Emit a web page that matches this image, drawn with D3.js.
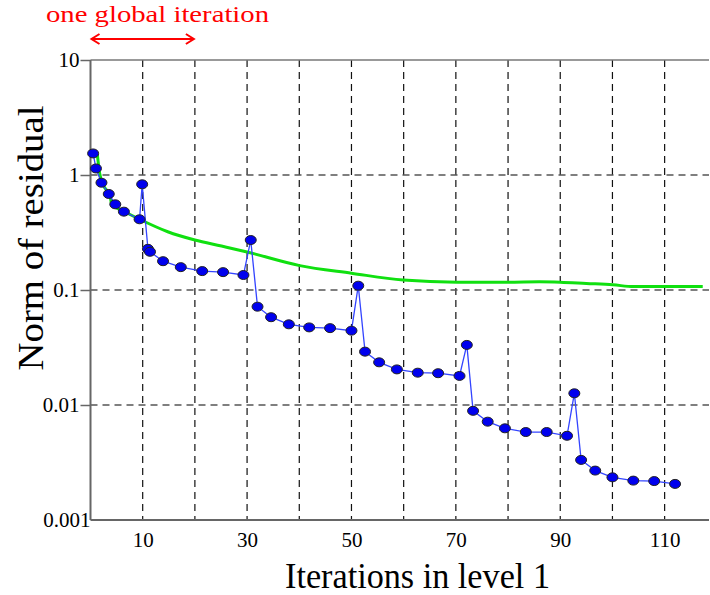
<!DOCTYPE html>
<html>
<head>
<meta charset="utf-8">
<script src="https://cdn.jsdelivr.net/npm/d3@7"></script>
<style>
  html, body { margin: 0; padding: 0; background: #fff; }
  svg { display: block; }
</style>
</head>
<body>
<svg id="chart" width="710" height="595"></svg>
<script>
// Residual norm of the level-1 solver (blue, with markers)
const iterX = [0.5, 1.05, 2.1, 3.5, 4.75, 6.4, 9.4,
  9.9, 11.0, 11.4, 13.9, 17.3, 21.4, 25.4, 29.3,
  30.7, 32.0, 34.6, 38.0, 41.9, 45.9, 50.0,
  51.3, 52.6, 55.3, 58.7, 62.7, 66.6, 70.7,
  72.1, 73.3, 76.1, 79.4, 83.4, 87.4, 91.3,
  92.7, 94.0, 96.7, 100.0, 104.0, 108.0, 112.0];
const residual = [1.54, 1.14, 0.857, 0.684, 0.556, 0.48, 0.412,
  0.83, 0.228, 0.215, 0.178, 0.158, 0.146, 0.143, 0.135,
  0.272, 0.0716, 0.058, 0.0503, 0.0473, 0.0466, 0.0443,
  0.109, 0.0291, 0.0235, 0.0204, 0.0191, 0.0189, 0.0179,
  0.0333, 0.0089, 0.00716, 0.00627, 0.00582, 0.00582, 0.0054,
  0.01264, 0.00333, 0.00269, 0.00235, 0.0022, 0.00218, 0.00206];

// Reference curve (green)
const refX = [1.3, 1.76, 2.6, 3.7, 4.1, 5.9, 9.7, 14.8, 20, 25.1, 30, 40.1, 50,
  59.9, 70.2, 80, 86, 90, 95, 100.1, 104, 109, 117.3];
const refY = [1.52, 1.03, 0.791, 0.67, 0.548, 0.496, 0.406, 0.321, 0.272, 0.241,
  0.214, 0.163, 0.14, 0.122, 0.117, 0.117, 0.118, 0.117, 0.114, 0.111, 0.107, 0.107, 0.107];

const xTicks = [10, 20, 30, 40, 50, 60, 70, 80, 90, 100, 110];
const xLabels = ["10", "30", "50", "70", "90", "110"];
const yTicks = [10, 1, 0.1, 0.01, 0.001];
const yLabels = ["10", "1", "0.1", "0.01", "0.001"];

const xTitle = "Iterations in level 1";
const yTitle = "Norm of residual";
const note = "one global iteration";
const noteSpan = [0, 20];

const SERIF = "'Liberation Serif', 'Times New Roman', serif";

const svg = d3.select("#chart");
const mLeft = 90.5, mRight = 709, mTop = 60, mBottom = 520;

const x = d3.scaleLinear().domain([0, 118.5]).range([mLeft, mRight]);
const y = d3.scaleLog().domain([0.001, 10]).range([mBottom, mTop]);

// vertical dashed grid
svg.append("g").selectAll("line").data(xTicks).join("line")
  .attr("x1", d => x(d)).attr("x2", d => x(d))
  .attr("y1", mTop).attr("y2", mBottom)
  .attr("stroke", "#111").attr("stroke-width", 1.2)
  .attr("stroke-dasharray", "7,5");

// horizontal dashed grid (the top decade is a solid line)
svg.append("g").selectAll("line").data(yTicks.filter(d => d !== 10 && d !== 0.001)).join("line")
  .attr("x1", mLeft).attr("x2", mRight)
  .attr("y1", d => y(d)).attr("y2", d => y(d))
  .attr("stroke", "#555").attr("stroke-width", 1.5)
  .attr("stroke-dasharray", "7,5");
svg.append("line")
  .attr("x1", mLeft).attr("x2", mRight)
  .attr("y1", y(10)).attr("y2", y(10))
  .attr("stroke", "#777").attr("stroke-width", 1.5);

// axes
const yAxis = d3.axisLeft(y).tickValues(yTicks)
  .tickFormat((d, i) => yLabels[i]).tickSize(10).tickPadding(1);
const gy = svg.append("g").attr("transform", `translate(${mLeft},0)`).call(yAxis);
gy.select(".domain").remove();
gy.attr("font-family", null);
gy.selectAll(".tick line").attr("stroke", "#666").attr("stroke-width", 1.5)
  .attr("display", d => d === 0.001 ? "none" : null);
gy.selectAll(".tick text")
  .attr("x", d => d === 0.001 ? 0 : -11)
  .style("font-family", SERIF).style("font-size", "21px").attr("fill", "#000");

const xAxis = d3.axisBottom(x).tickValues(d3.range(10, 111, 20))
  .tickFormat((d, i) => xLabels[i]).tickSize(0).tickPadding(12);
const gx = svg.append("g").attr("transform", `translate(0,${mBottom})`).call(xAxis);
gx.select(".domain").remove();
gx.attr("font-family", null);
gx.selectAll(".tick text")
  .style("font-family", SERIF).style("font-size", "21px").attr("fill", "#000");

svg.append("line").attr("x1", mLeft).attr("x2", mLeft).attr("y1", mTop).attr("y2", mBottom)
  .attr("stroke", "#666").attr("stroke-width", 2);
svg.append("line").attr("x1", mLeft).attr("x2", mRight).attr("y1", mBottom).attr("y2", mBottom)
  .attr("stroke", "#666").attr("stroke-width", 2);

// green reference curve
const refPts = refX.map((v, i) => [v, refY[i]]);
svg.append("path").datum(refPts)
  .attr("fill", "none").attr("stroke", "#10e010").attr("stroke-width", 3)
  .attr("d", d3.line().x(d => x(d[0])).y(d => y(d[1])).curve(d3.curveMonotoneX));

// blue residual history
const resPts = iterX.map((v, i) => [v, residual[i]]);
svg.append("path").datum(resPts)
  .attr("fill", "none").attr("stroke", "#3344ff").attr("stroke-width", 1.3)
  .attr("d", d3.line().x(d => x(d[0])).y(d => y(d[1])));
svg.append("g").selectAll("ellipse").data(resPts).join("ellipse")
  .attr("cx", d => x(d[0])).attr("cy", d => y(d[1]))
  .attr("rx", 5.5).attr("ry", 4.5)
  .attr("fill", "#0000ee").attr("stroke", "#222").attr("stroke-width", 1);

// axis titles
svg.append("text").attr("x", (285 + 550) / 2).attr("y", 588)
  .attr("text-anchor", "middle")
  .style("font-family", SERIF).style("font-size", "36px")
  .attr("textLength", 265).attr("lengthAdjust", "spacingAndGlyphs")
  .text(xTitle);
svg.append("text").attr("transform", "translate(43,238) rotate(-90)")
  .attr("text-anchor", "middle")
  .style("font-family", SERIF).style("font-size", "36px")
  .attr("textLength", 265).attr("lengthAdjust", "spacingAndGlyphs")
  .text(yTitle);

// annotation: span of one global iteration
svg.append("text").attr("x", 46).attr("y", 22).attr("fill", "#ff0000")
  .style("font-family", SERIF).style("font-size", "24px")
  .attr("textLength", 223).attr("lengthAdjust", "spacingAndGlyphs")
  .text(note);
const ay = 39;
const ax0 = x(noteSpan[0]), ax1 = x(noteSpan[1]);
svg.append("line").attr("x1", ax0 + 1).attr("x2", ax1 - 1).attr("y1", ay).attr("y2", ay)
  .attr("stroke", "#ff0000").attr("stroke-width", 2);
svg.append("path")
  .attr("d", `M${ax0 + 9},${ay - 5} L${ax0 + 1},${ay} L${ax0 + 9},${ay + 5}` +
             `M${ax1 - 9},${ay - 5} L${ax1 - 1},${ay} L${ax1 - 9},${ay + 5}`)
  .attr("fill", "none").attr("stroke", "#ff0000").attr("stroke-width", 2);
</script>
</body>
</html>
